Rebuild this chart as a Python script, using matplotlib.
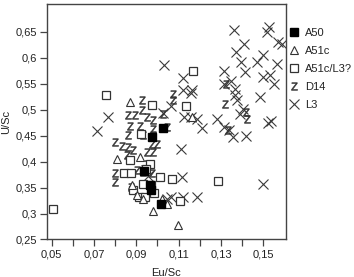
import matplotlib
matplotlib.use("Agg")
import matplotlib.pyplot as plt
from matplotlib.ticker import FuncFormatter, FixedLocator

plt.rcParams['font.family'] = ['Liberation Sans', 'DejaVu Sans']

# A50 (filled squares)
a50_x = [0.1025, 0.0938, 0.0968, 0.1017, 0.0976, 0.0965]
a50_y = [0.4647, 0.3814, 0.346, 0.318, 0.447, 0.354]

# A51c (open triangles)
a51c_x = [0.087, 0.0807, 0.0878, 0.0933, 0.098, 0.1099, 0.102, 0.1043, 0.1162, 0.0917, 0.0902]
a51c_y = [0.5147, 0.4058, 0.3545, 0.3276, 0.305, 0.2776, 0.327, 0.319, 0.486, 0.409, 0.335]

# A51c/L3? (open squares)
a51l3_x = [0.0505, 0.0757, 0.0973, 0.1166, 0.1135, 0.0922, 0.087, 0.0843, 0.0875, 0.0965,
           0.0933, 0.0968, 0.0886, 0.0914, 0.0941, 0.0985, 0.1014, 0.107, 0.1108, 0.1286, 0.0944]
a51l3_y = [0.3096, 0.5276, 0.5083, 0.5737, 0.5064, 0.4538, 0.4026, 0.3788, 0.3788, 0.396,
           0.3577, 0.3545, 0.3449, 0.332, 0.332, 0.3397, 0.3705, 0.3673, 0.3237, 0.3628, 0.3865]

# D14 ("Z" markers)
d14_x = [0.0925, 0.0862, 0.0894, 0.0925, 0.0949, 0.098, 0.087, 0.0917, 0.0862, 0.0933,
         0.098, 0.098, 0.0799, 0.0831, 0.0862, 0.0886, 0.0949, 0.0973, 0.0996, 0.098,
         0.0799, 0.0799, 0.0854, 0.1028, 0.1075, 0.1075, 0.1043, 0.1324, 0.1321, 0.1335,
         0.1418, 0.1422, 0.0873, 0.0902, 0.0949, 0.0973, 0.0933]
d14_y = [0.518, 0.489, 0.489, 0.4987, 0.486, 0.4795, 0.468, 0.468, 0.4506, 0.4506,
         0.4635, 0.4506, 0.4378, 0.4295, 0.4282, 0.4218, 0.4186, 0.4346, 0.4346, 0.4186,
         0.377, 0.361, 0.412, 0.4923, 0.5308, 0.518, 0.4667, 0.55, 0.5115, 0.46,
         0.4955, 0.4827, 0.3513, 0.3833, 0.396, 0.377, 0.38]

# L3 ("x" markers)
l3_x = [0.0713, 0.0765, 0.1032, 0.1119, 0.1119, 0.1163, 0.116, 0.1064, 0.1028, 0.1126,
        0.116, 0.1185, 0.121, 0.1113, 0.1114, 0.1064, 0.112, 0.1187, 0.1281, 0.1314,
        0.134, 0.1357, 0.1418, 0.1363, 0.141, 0.137, 0.1396, 0.1415, 0.1312, 0.1314,
        0.1347, 0.1366, 0.1366, 0.1375, 0.1402, 0.139, 0.1472, 0.15, 0.1528, 0.1516,
        0.1571, 0.1587, 0.1563, 0.1531, 0.150, 0.155, 0.1484, 0.1535, 0.1524, 0.150,
        0.0944, 0.0957, 0.1045]
l3_y = [0.4583, 0.486, 0.5865, 0.5615, 0.537, 0.5385, 0.531, 0.506, 0.494, 0.486,
        0.486, 0.481, 0.464, 0.424, 0.3705, 0.3314, 0.331, 0.331, 0.481, 0.467,
        0.46, 0.4474, 0.449, 0.6526, 0.627, 0.611, 0.5917, 0.5724, 0.574, 0.55,
        0.5545, 0.54, 0.5276, 0.518, 0.502, 0.492, 0.5917, 0.6045, 0.659, 0.649,
        0.63, 0.627, 0.588, 0.566, 0.563, 0.55, 0.5244, 0.478, 0.474, 0.3558,
        0.383, 0.372, 0.327]

fig = plt.figure(figsize=(3.54, 2.77), dpi=100)
ax = fig.add_axes([0.1328, 0.1354, 0.675, 0.851])

mc = '#333333'
ax.plot(l3_x, l3_y, ls='none', marker='x', ms=7.5, mew=0.8, color='#3a3a3a', label='L3', zorder=2)
ax.plot(d14_x, d14_y, ls='none', marker=r'$\mathregular{Z}$', ms=5.5, mew=0.4, color=mc,
        label='D14', zorder=3)
ax.plot(a51l3_x, a51l3_y, ls='none', marker='s', ms=6, mew=0.9, mfc='white', mec=mc,
        label='A51c/L3?', zorder=4)
ax.plot(a51c_x, a51c_y, ls='none', marker='^', ms=6, mew=0.8, mfc='white', mec=mc,
        label='A51c', zorder=4)
ax.plot(a50_x, a50_y, ls='none', marker='s', ms=5.5, color='black', label='A50', zorder=5)

ax.set_xlim(0.0478, 0.1607)
ax.set_ylim(0.25, 0.7035)

ax.xaxis.set_major_locator(FixedLocator([0.05, 0.07, 0.09, 0.11, 0.13, 0.15]))
ax.xaxis.set_minor_locator(FixedLocator([0.06, 0.08, 0.10, 0.12, 0.14]))
ax.yaxis.set_major_locator(FixedLocator([0.25, 0.3, 0.35, 0.4, 0.45, 0.5, 0.55, 0.6, 0.65]))
fmt = FuncFormatter(lambda v, p: ('%g' % round(v, 3)).replace('.', ','))
ax.xaxis.set_major_formatter(fmt)
ax.yaxis.set_major_formatter(fmt)

ax.tick_params(which='both', direction='out', length=5, width=0.9, color='#444444',
               labelsize=8, pad=2, labelcolor='#222222')
for s in ax.spines.values():
    s.set_color('#444444')
    s.set_linewidth(1.0)

ax.set_xlabel('Eu/Sc', fontsize=8, labelpad=6, color='#222222')
ax.set_ylabel('U/Sc', fontsize=8, labelpad=3, color='#222222')

h, l = ax.get_legend_handles_labels()
ax.legend(h[::-1], l[::-1], loc='upper left', bbox_to_anchor=(0.995, 0.915),
          frameon=False, fontsize=8, handlelength=0.8, handletextpad=0.6,
          labelspacing=0.72, borderaxespad=0.0, labelcolor='#222222')

fig.savefig('out.png', dpi=100)
